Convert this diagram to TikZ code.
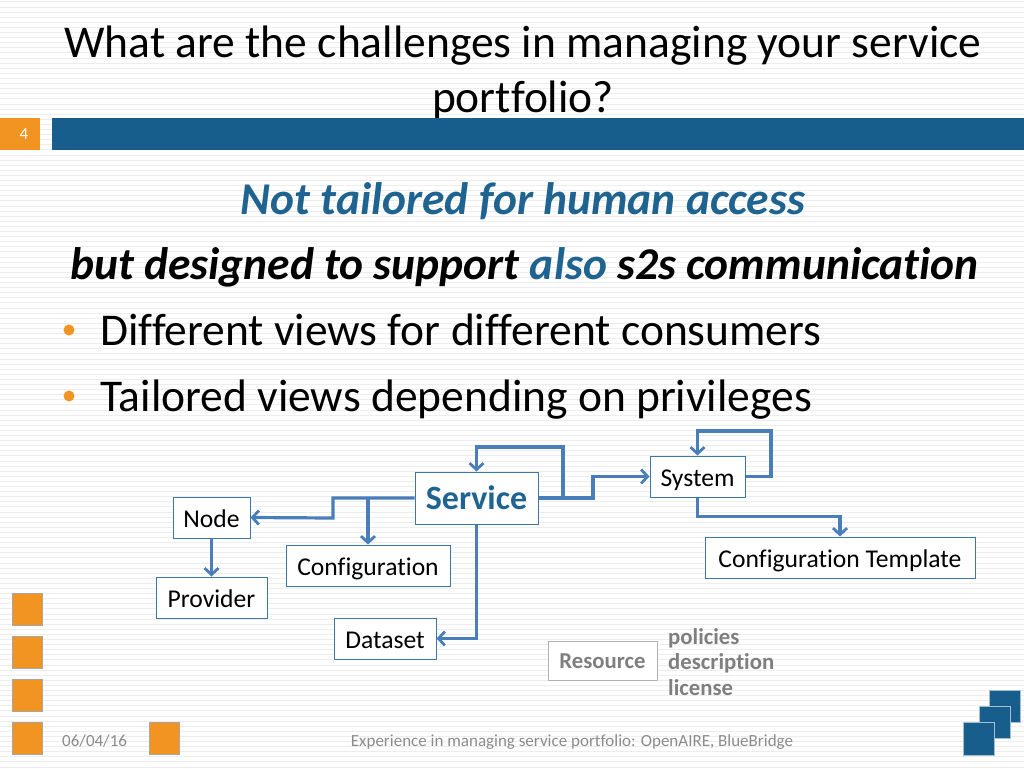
\documentclass[tikz,border=0pt]{standalone}
\usepackage{fontspec}
\setmainfont{Carlito}[Ligatures=NoCommon]
\usetikzlibrary{arrows.meta}
\definecolor{barblue}{HTML}{185E8C}
\definecolor{ttlblue}{HTML}{1F6391}
\definecolor{lnblue}{HTML}{4A7EBB}
\definecolor{bxblue}{HTML}{3B77A8}
\definecolor{orng}{HTML}{F29421}
\definecolor{ftgray}{HTML}{8C8C8C}
\definecolor{resgray}{HTML}{7F7F7F}
\tikzset{
  box/.style={draw=bxblue,line width=1pt,fill=white,inner sep=0pt,text height=21pt,text depth=2pt,font=\fontsize{25.6}{30}\selectfont},
  arr/.style={draw=lnblue,line width=3.2pt,-{Straight Barb[length=6.5pt,width=14pt,line width=2.8pt]}},
  osq/.style={draw=gray!70,line width=1pt,fill=orng},
  bsq/.style={draw=white!60!barblue,line width=1pt,fill=barblue},
  big/.style={font=\fontsize{45.5}{52}\selectfont},
  bigbi/.style={font=\fontsize{45.5}{52}\selectfont\bfseries\itshape},
}
\begin{document}
\begin{tikzpicture}[x=1pt,y=-1pt]
\useasboundingbox (0,0) rectangle (1024,768);
\fill[white] (0,0) rectangle (1024,768);
\foreach \k in {0,...,150}{
  \draw[gray!14,line width=1pt] (0,2+\k*5.1) -- (1024,2+\k*5.1);
}
% title
\node[anchor=base,big] (t1) at (523,57) {What are the challenges in managing your service};
\node[anchor=base,big] (t2) at (523,112) {portfolio?};
% header bar
\fill[orng] (0,118) rectangle (40,150);
\node[text=white,font=\fontsize{17}{20}\selectfont] (num) at (24,134) {4};
\fill[barblue] (52,118) rectangle (1024,150);
% headings
\node[anchor=base,text=ttlblue,bigbi] (h1) at (523,214) {Not tailored for human access};
\node[anchor=base west,inner sep=0pt,bigbi] (h2) at (70,279) {but designed to support \textcolor{ttlblue}{also} s2s communication};
\fill[orng] (69,330) circle (5.5);
\fill[orng] (69,396) circle (5.5);
\node[anchor=base west,inner sep=0pt,big] (b1) at (100,345) {Different views for different consumers};
\node[anchor=base west,inner sep=0pt,big] (b2) at (100,411) {Tailored views depending on privileges};
% diagram boxes
\node[box,minimum width=77,minimum height=41] (nd) at (211.5,517.5) {Node};
\node[box,minimum width=111,minimum height=41] (prov) at (211.5,597.5) {Provider};
\node[box,minimum width=164,minimum height=41] (cfg) at (368,565.5) {Configuration};
\node[box,minimum width=123,minimum height=52,text height=26pt,text depth=4pt,text=ttlblue,font=\fontsize{34}{40}\selectfont\bfseries] (svc) at (476.5,498) {Service};
\node[box,minimum width=102,minimum height=41] (ds) at (385,638.5) {Dataset};
\node[box,minimum width=95,minimum height=41] (sys) at (697.5,476.5) {System};
\node[box,minimum width=270,minimum height=41] (ct) at (840,557.5) {Configuration Template};
\node[draw=gray!60,line width=1pt,fill=white,minimum width=109,minimum height=39,inner sep=0pt,text height=18pt,text depth=3pt,text=resgray,font=\fontsize{22.75}{26}\selectfont\bfseries] (res) at (602.5,660.5) {Resource};
\node[anchor=base west,inner sep=0pt,text=resgray,font=\fontsize{22.75}{26}\selectfont\bfseries] (p1) at (668,644) {policies};
\node[anchor=base west,inner sep=0pt,text=resgray,font=\fontsize{22.75}{26}\selectfont\bfseries] (p2) at (668,669) {description};
\node[anchor=base west,inner sep=0pt,text=resgray,font=\fontsize{22.75}{26}\selectfont\bfseries] (p3) at (668,695) {license};
% connectors
\draw[arr] (svc.west) -| (333,518) -- (nd.east);
\draw[arr] (cfg.north |- svc.west) -- (cfg.north);
\draw[arr] (svc.east) -| (563,447) -| (svc.north);
\draw[arr] (svc.east) -- (593,498) |- (sys.west);
\draw[arr] (svc.south) |- (ds.east);
\draw[arr] (nd.south) -- (prov.north);
\draw[arr] (sys.east) -| (771,431) -| (sys.north);
\draw[arr] (sys.south) |- ([yshift=20pt]ct.north) -- (ct.north);
% decorative squares
\foreach \yy in {593,636,679,722}{
  \draw[osq] (12,\yy) rectangle (42,\yy+32);
}
\draw[osq] (149,722) rectangle (179,754);
\draw[bsq] (989,690) rectangle (1020,722);
\draw[bsq] (979,706) rectangle (1010,738);
\draw[bsq] (963,722) rectangle (994,755);
% footer
\node[anchor=base west,inner sep=0pt,text=ftgray,font=\fontsize{17}{20}\selectfont] (date) at (62,746) {06/04/16};
\node[anchor=base,inner sep=0pt,text=ftgray,font=\fontsize{17}{20}\selectfont] (foot) at (572,746) {Experience in managing service portfolio: OpenAIRE, BlueBridge};
\end{tikzpicture}
\end{document}
